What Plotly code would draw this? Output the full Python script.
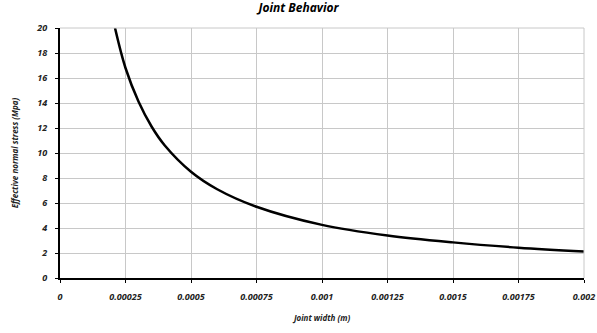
import plotly.graph_objects as go

# Joint width (m) and effective normal stress (MPa) along the curve
joint_width = [0.00021, 0.00025, 0.0003, 0.00035, 0.0004, 0.0005, 0.0006,
               0.00075, 0.001, 0.00125, 0.0015, 0.00175, 0.002]
normal_stress = [20.0, 16.8, 14.1, 12.1, 10.6, 8.5, 7.1,
                 5.7, 4.25, 3.4, 2.85, 2.43, 2.12]

x_ticks = [0, 0.00025, 0.0005, 0.00075, 0.001, 0.00125, 0.0015, 0.00175, 0.002]
x_tick_text = ["0", "0.00025", "0.0005", "0.00075", "0.001", "0.00125",
               "0.0015", "0.00175", "0.002"]
y_ticks = [0, 2, 4, 6, 8, 10, 12, 14, 16, 18, 20]

FONT = "Open Sans"
tick_font = dict(family=FONT, size=9, color="#222")

fig = go.Figure()
fig.add_trace(go.Scatter(
    x=joint_width, y=normal_stress, mode="lines",
    line=dict(color="black", width=2.5, shape="spline", smoothing=1.0),
    showlegend=False, hoverinfo="skip",
))

fig.update_layout(
    width=597, height=333,
    margin=dict(l=60, r=13, t=28, b=55),
    paper_bgcolor="white", plot_bgcolor="white",
    title=dict(text="<b><i>Joint Behavior</i></b>", x=0.5, xanchor="center",
               y=0.99, yanchor="top",
               font=dict(family=FONT, size=12, color="black")),
)

fig.update_xaxes(
    range=[0, 0.002], tickvals=x_ticks,
    ticktext=[f"<b><i>{t}</i></b>" for t in x_tick_text],
    tickfont=tick_font, ticklabelstandoff=6,
    showgrid=True, gridcolor="#c8c8c8", gridwidth=1,
    showline=True, linecolor="black", linewidth=2,
    ticks="outside", ticklen=3, tickcolor="black", tickwidth=1,
    mirror=False, zeroline=False, automargin=False,
    title=dict(text="<b><i>Joint width (m)</i></b>", standoff=14,
               font=dict(family=FONT, size=8, color="#222")),
)
fig.update_yaxes(
    range=[0, 20], tickvals=y_ticks,
    ticktext=[f"<b><i>{t}</i></b>" for t in y_ticks],
    tickfont=tick_font, ticklabelstandoff=6,
    showgrid=True, gridcolor="#c8c8c8", gridwidth=1,
    showline=True, linecolor="black", linewidth=2,
    ticks="outside", ticklen=3, tickcolor="black", tickwidth=1,
    zeroline=False, automargin=False,
    title=dict(text="<b><i>Effective normal stress (Mpa)</i></b>", standoff=16,
               font=dict(family=FONT, size=8, color="#222")),
)

# light border on the top and right sides of the plot area
fig.add_shape(type="line", xref="paper", yref="paper", x0=0, x1=1, y0=1, y1=1,
              line=dict(color="#c8c8c8", width=1))
fig.add_shape(type="line", xref="paper", yref="paper", x0=1, x1=1, y0=0, y1=1,
              line=dict(color="#c8c8c8", width=1))

fig.write_html("out.html")
